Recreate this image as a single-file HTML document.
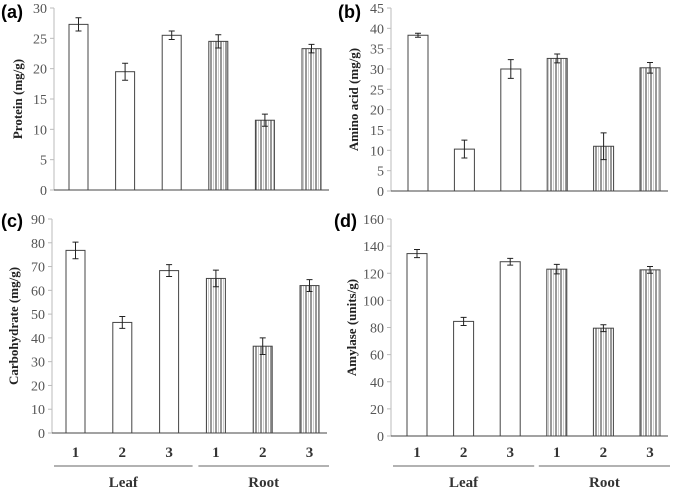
<!DOCTYPE html>
<html><head><meta charset="utf-8"><style>
body{margin:0;background:#fff;width:676px;height:490px;overflow:hidden}
svg{display:block}
text{font-family:"Liberation Serif",serif;fill:#555}
</style></head><body>
<svg id="c" width="676" height="490">
<defs>
<pattern id="stripe" patternUnits="userSpaceOnUse" width="5" height="10">
<rect width="5" height="10" fill="#fff"/><rect x="0" width="2" height="10" fill="#999"/><rect x="3" width="1" height="10" fill="#ccc"/>
</pattern>
</defs>
</svg>
<script>
const categories=["1","2","3","1","2","3"];
const proteinVals=[27.3,19.5,25.5,24.5,11.5,23.3];
const proteinErr=[1.1,1.4,0.7,1.1,1.0,0.7];
const aminoVals=[38.3,10.3,30.0,32.6,11.0,30.3];
const aminoErr=[0.5,2.2,2.3,1.1,3.3,1.3];
const carbVals=[76.8,46.5,68.3,65.0,36.5,62.0];
const carbErr=[3.5,2.5,2.5,3.5,3.5,2.5];
const amylaseVals=[134.5,84.5,128.5,123.0,79.5,122.5];
const amylaseErr=[3.0,3.0,2.5,3.5,2.5,2.5];
const proteinTicks=[0,5,10,15,20,25,30];
const aminoTicks=[0,5,10,15,20,25,30,35,40,45];
const carbTicks=[0,10,20,30,40,50,60,70,80,90];
const amylaseTicks=[0,20,40,60,80,100,120,140,160];
const groups=["Leaf","Root"];

const svg=document.getElementById('c');
const NS="http://www.w3.org/2000/svg";
function el(tag,attrs,parent){const e=document.createElementNS(NS,tag);for(const k in attrs)e.setAttribute(k,attrs[k]);(parent||svg).appendChild(e);return e;}

const panels=[
 {id:'a',label:'(a)',title:'Protein (mg/g)',vals:proteinVals,err:proteinErr,ticks:proteinTicks,ax:54,x0:69,step:46.6,bw:19,top:8,bot:190,lx:1,ly:18,tx:22},
 {id:'b',label:'(b)',title:'Amino acid (mg/g)',vals:aminoVals,err:aminoErr,ticks:aminoTicks,ax:391,x0:408,step:46.4,bw:20,top:8,bot:191,lx:338,ly:18,tx:358},
 {id:'c',label:'(c)',title:'Carbohydrate (mg/g)',vals:carbVals,err:carbErr,ticks:carbTicks,ax:52,x0:66,step:46.8,bw:19,top:219,bot:433,lx:1,ly:227,tx:18},
 {id:'d',label:'(d)',title:'Amylase (units/g)',vals:amylaseVals,err:amylaseErr,ticks:amylaseTicks,ax:391,x0:407,step:46.6,bw:20,top:219,bot:436,lx:334,ly:227,tx:356}
];
panels.forEach(p=>{
 const g=el('g',{});
 
 
 const max=p.ticks[p.ticks.length-1];
 const y=v=>p.bot-(v/max)*(p.bot-p.top);
 const lab=el('text',{x:p.lx,y:p.ly,'font-size':18,'font-weight':'bold',style:'font-family:"Liberation Sans",sans-serif;fill:#000'},g);
 lab.textContent=p.label;
 
 
 const axl=el('line',{x1:p.ax,x2:p.ax,y1:p.top,y2:p.bot,stroke:'#bbb'},g);
 
 
 const xl=el('line',{x1:p.ax,x2:p.x0+5*p.step+p.bw+8,y1:p.bot,y2:p.bot,stroke:'#444'},g);
 
 
 p.ticks.forEach(t=>{
  el('line',{x1:p.ax-4,x2:p.ax,y1:y(t),y2:y(t),stroke:'#bbb'},g);
  const tt=el('text',{x:p.ax-7,y:y(t)+5,'font-size':14,'text-anchor':'end'},g);
  tt.textContent=t;
  
  
 });
 const cy=(p.top+p.bot)/2;
 const tl=el('text',{x:p.tx,y:cy,'font-size':13,'font-weight':'bold','text-anchor':'middle',transform:`rotate(-90 ${p.tx} ${cy})`,style:'fill:#222'},g);
 tl.textContent=p.title;
 
 
 p.vals.forEach((v,i)=>{
  const x=p.x0+i*p.step;
  const r=el('rect',{x:x,y:y(v),width:p.bw,height:p.bot-y(v),fill:i<3?'#fff':'url(#stripe)',stroke:'#444','stroke-width':1},g);
  
  
  const cx=x+p.bw/2,e=p.err[i];
  const eb=el('path',{d:`M${cx},${y(v+e)}V${y(v-e)}M${cx-3},${y(v+e)}H${cx+3}M${cx-3},${y(v-e)}H${cx+3}`,stroke:'#222',fill:'none'},g);
  
  
 });
 if(p.id==='c'||p.id==='d'){
  categories.forEach((c,i)=>{
   const ct=el('text',{x:p.x0+i*p.step+p.bw/2,y:457,'font-size':15,'font-weight':'bold','text-anchor':'middle',style:'fill:#333'},g);
   ct.textContent=c;
   
   
  });
  groups.forEach((gr,k)=>{
   const x1=k===0?p.ax+2:p.x0+3*p.step-8, x2=k===0?p.x0+2*p.step+p.bw+14:p.x0+5*p.step+p.bw+10;
   const gl=el('line',{x1:x1,x2:x2,y1:466,y2:466,stroke:'#666'},g);
   
   
   const gt=el('text',{x:(x1+x2)/2,y:487,'font-size':15,'font-weight':'bold','text-anchor':'middle',style:'fill:#333'},g);
   gt.textContent=gr;
   
   
  });
 }
});
</script>
</body></html>
